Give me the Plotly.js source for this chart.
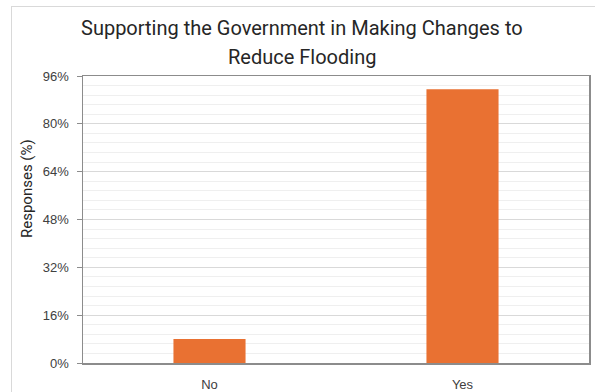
<!DOCTYPE html>
<html>
<head>
<meta charset="utf-8">
<script src="https://cdn.plot.ly/plotly-3.0.1.min.js"></script>
<style>
  html, body { margin: 0; padding: 0; background: #ffffff; width: 595px; height: 392px; overflow: hidden; }
  #frame { position: absolute; left: 11px; top: 6px; width: 584px; height: 386px;
           border-left: 1px solid #d9d9d9; border-top: 1px solid #d9d9d9; box-sizing: border-box; }
  #chart { width: 583px; height: 385px; }
</style>
</head>
<body>
<div id="frame"><div id="chart"></div></div>
<script>
const categories = ["No", "Yes"];
const responses = [8, 91.6];
const yTickValues = [0, 16, 32, 48, 64, 80, 96];
const yTickLabels = ["0%", "16%", "32%", "48%", "64%", "80%", "96%"];
const titleLines = ["Supporting the Government in Making Changes to", "Reduce Flooding"];
const yTitle = "Responses (%)";

const trace = {
  type: "bar",
  x: categories,
  y: responses,
  marker: { color: "#E97132" },
  hoverinfo: "x+y"
};

const W = 583, H = 385;
const titleFont = { family: "Roboto, 'Liberation Sans', sans-serif", size: 20, color: "#262626" };
const tickFontFamily = "'Liberation Sans', Arial, sans-serif";

const layout = {
  width: W,
  height: H,
  margin: { l: 71, r: 6, t: 69, b: 29 },
  paper_bgcolor: "#ffffff",
  plot_bgcolor: "#ffffff",
  bargap: 0.715,
  showlegend: false,
  font: { family: tickFontFamily, color: "#595959" },
  annotations: [
    { text: titleLines[0], xref: "paper", yref: "paper", x: (290 - 71) / 506, y: 1 + (69 - 21) / 287,
      xanchor: "center", yanchor: "middle", showarrow: false, font: titleFont },
    { text: titleLines[1], xref: "paper", yref: "paper", x: (290 - 71) / 506, y: 1 + (69 - 50) / 287,
      xanchor: "center", yanchor: "middle", showarrow: false, font: titleFont },
    { text: yTitle, xref: "paper", yref: "paper", x: (15 - 71) / 506, y: (356 - 182) / 287,
      xanchor: "center", yanchor: "middle", textangle: -90, showarrow: false,
      font: { family: "Roboto, 'Liberation Sans', sans-serif", size: 15, color: "#262626" } }
  ],
  xaxis: {
    type: "category",
    showgrid: false,
    ticks: "",
    ticklabelstandoff: 9,
    tickfont: { family: tickFontFamily, size: 13, color: "#404040" },
    showline: true, linecolor: "#8c8c8c", linewidth: 1.5, mirror: true,
    zeroline: false
  },
  yaxis: {
    range: [0, 96],
    tickvals: yTickValues,
    ticktext: yTickLabels,
    ticks: "outside", ticklen: 5, tickcolor: "#8c8c8c",
    ticklabelstandoff: 5,
    tickfont: { family: tickFontFamily, size: 13, color: "#404040" },
    showgrid: true, gridcolor: "#d9d9d9", gridwidth: 1,
    minor: { dtick: 3.2, tick0: 0, showgrid: true, gridcolor: "#efefef", gridwidth: 1, ticks: "" },
    showline: true, linecolor: "#8c8c8c", linewidth: 1.5, mirror: true,
    zeroline: false
  }
};

Plotly.newPlot("chart", [trace], layout, { displayModeBar: false, staticPlot: true });
</script>
</body>
</html>
